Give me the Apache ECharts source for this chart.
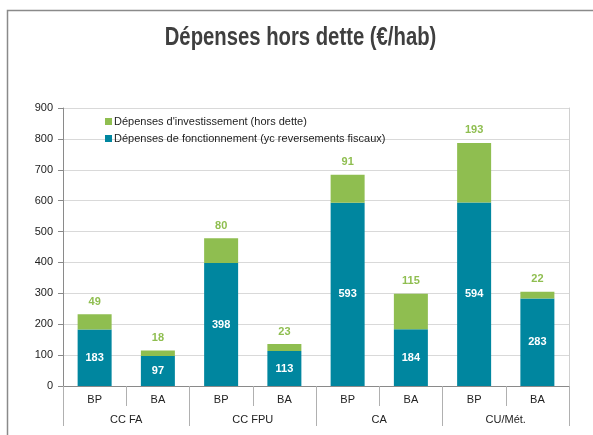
<!DOCTYPE html>
<html>
<head>
<meta charset="utf-8">
<script src="https://cdn.jsdelivr.net/npm/echarts@6/dist/echarts.min.js"></script>
<style>
  html, body { margin: 0; padding: 0; background: #fff; }
  #main { width: 593px; height: 435px; }
</style>
</head>
<body>
<div id="main"></div>
<script>
// données
const titre = "Dépenses hors dette (€/hab)";
const budgets = ["BP", "BA", "BP", "BA", "BP", "BA", "BP", "BA"];
const groupes = ["CC FA", "CC FPU", "CA", "CU/Mét."];
const fonctionnement = [183, 97, 398, 113, 593, 184, 594, 283];
const investissement = [49, 18, 80, 23, 91, 115, 193, 22];
const yTicks = [0, 100, 200, 300, 400, 500, 600, 700, 800, 900];

const teal = "#00869f";
const green = "#8fbe50";
const font = "'Liberation Sans', Arial, sans-serif";

const chart = echarts.init(document.getElementById("main"));

const options = {
  animation: false,
  textStyle: { fontFamily: font },
  graphic: [
    // cadre
    {
      type: "rect",
      shape: { x: 7.5, y: 10.5, width: 700, height: 600 },
      style: { fill: "none", stroke: "#8a8a8a", lineWidth: 1.5 },
      silent: true,
    },
    // titre (police condensée)
    {
      type: "text",
      x: 300.5,
      y: 38,
      scaleX: 0.78,
      silent: true,
      style: {
        text: titre,
        x: 0,
        y: 0,
        textAlign: "center",
        textVerticalAlign: "middle",
        font: "bold 26px 'Liberation Sans', Arial, sans-serif",
        fill: "#3f3f3f",
      },
    },
  ],
  legend: {
    orient: "vertical",
    left: 100,
    top: 111,
    itemWidth: 7,
    itemHeight: 7,
    itemGap: 6,
    icon: "rect",
    textStyle: { fontSize: 11, color: "#222", fontFamily: font, padding: [0, 0, 0, -3] },
    data: ["Dépenses d'investissement (hors dette)", "Dépenses de fonctionnement (yc reversements fiscaux)"],
  },
  grid: { left: 63, right: 24, top: 108, bottom: 49 },
  xAxis: [
    {
      type: "category",
      data: budgets,
      position: "bottom",
      axisLine: { lineStyle: { color: "#8a8a8a" } },
      axisTick: { show: true, interval: 0, length: 20, lineStyle: { color: "#b0b0b0" } },
      axisLabel: { interval: 0, margin: 8, fontSize: 11, color: "#222", fontFamily: font },
    },
    {
      type: "category",
      data: groupes,
      position: "bottom",
      axisLine: { show: false },
      axisTick: { show: true, interval: 0, length: 40, lineStyle: { color: "#b0b0b0" } },
      axisLabel: { interval: 0, margin: 28, fontSize: 11, color: "#222", fontFamily: font },
    },
  ],
  yAxis: [
    {
      type: "value",
      min: yTicks[0],
      max: yTicks[yTicks.length - 1],
      interval: 100,
      axisLine: { show: true, lineStyle: { color: "#8a8a8a" } },
      axisTick: { show: true, length: 5, lineStyle: { color: "#8a8a8a" } },
      axisLabel: { fontSize: 11, color: "#222", margin: 10, fontFamily: font },
      splitLine: { lineStyle: { color: "#d9d9d9" } },
    },
    {
      type: "value",
      position: "right",
      min: 0,
      max: 900,
      interval: 100,
      axisLine: { show: true, lineStyle: { color: "#d0d0d0" } },
      axisTick: { show: false },
      axisLabel: { show: false },
      splitLine: { show: false },
    },
  ],
  series: [
    {
      name: "Dépenses de fonctionnement (yc reversements fiscaux)",
      type: "bar",
      stack: "total",
      xAxisIndex: 0,
      data: fonctionnement,
      barWidth: 34,
      itemStyle: { color: teal },
      label: {
        show: true,
        position: "inside",
        color: "#fff",
        fontWeight: "bold",
        fontSize: 11,
        fontFamily: font,
      },
    },
    {
      name: "Dépenses d'investissement (hors dette)",
      type: "bar",
      stack: "total",
      xAxisIndex: 0,
      data: investissement,
      barWidth: 34,
      itemStyle: { color: green },
      label: {
        show: true,
        position: "top",
        distance: 7,
        color: green,
        fontWeight: "bold",
        fontSize: 11,
        fontFamily: font,
      },
    },
  ],
};

chart.setOption(options);
</script>
</body>
</html>
